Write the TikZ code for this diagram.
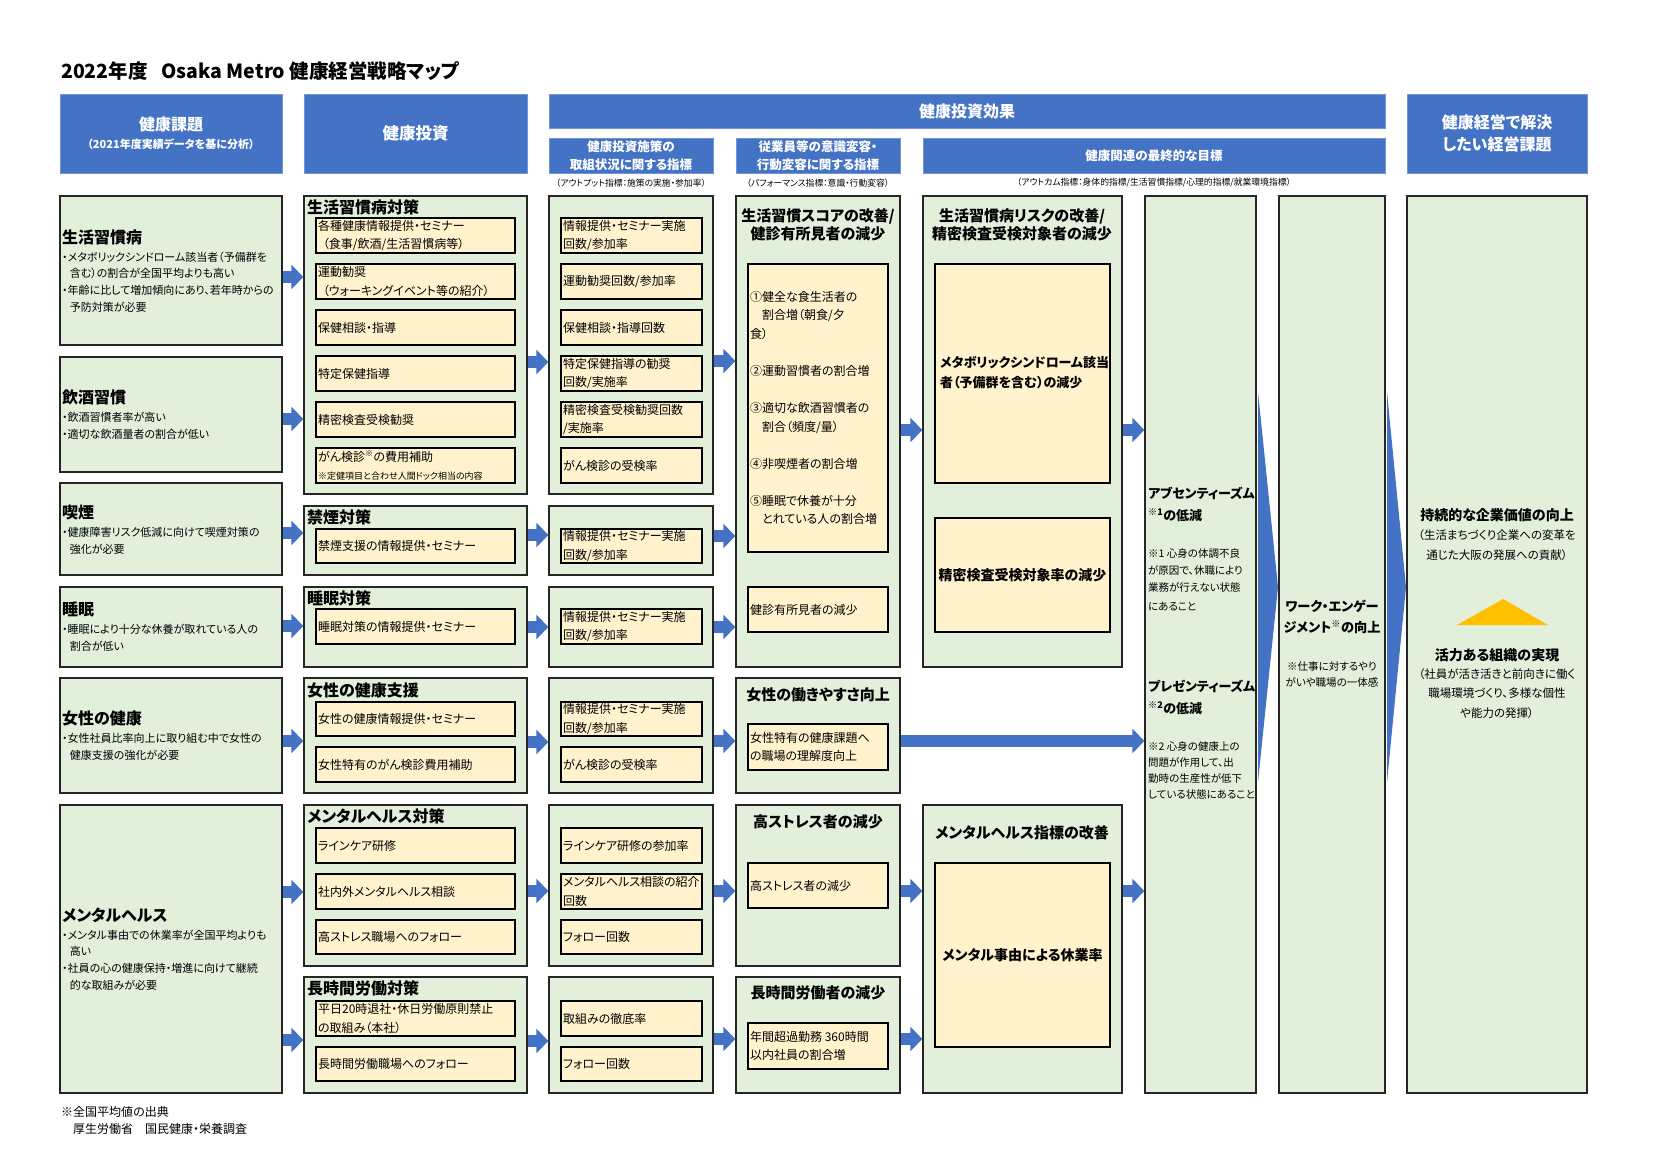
\documentclass[tikz,border=0pt]{standalone}
\usepackage{fontspec}
\setmainfont{Noto Sans CJK JP}[RawFeature=+palt]
\usetikzlibrary{arrows.meta,fit}
\definecolor{hblue}{HTML}{4472C4}
\definecolor{lgreen}{HTML}{E2EFDA}
\definecolor{lyel}{HTML}{FFF2CC}
\definecolor{bdr}{HTML}{262626}
\definecolor{gold}{HTML}{FFC000}
\newcommand\fs[2]{\fontsize{#1}{#2}\selectfont}
\newcommand\BX[6]{\node[#2,fit={(#3,#4) (#5,#6)},inner sep=0pt] (#1) {};}
\newcommand\IB[6]{\node[ibox,fit={(#2,#3) (#4,#5)},inner sep=0pt] (#1) {};
  \node[itext,anchor=west] (#1t) at ([xshift=2.5pt]#1.west) {#6};}
\newcommand\AR[3]{\draw[barrow] (#1.east |- 0,#3) -- (#2.west |- 0,#3);}
\begin{document}
\begin{tikzpicture}[x=1pt,y=-1pt,
  hdr/.style={fill=hblue,draw=hblue!75!white,line width=0.8pt},
  htext/.style={text=white,font=\bfseries\fs{16}{22},align=center,inner sep=0pt},
  stext/.style={text=white,font=\bfseries\fs{12.5}{18},align=center,inner sep=0pt},
  note/.style={font=\fs{8.8}{10},inner sep=0pt},
  gbox/.style={fill=lgreen,draw=bdr,line width=1.3pt},
  ibox/.style={fill=lyel,draw=black,line width=1.2pt},
  itext/.style={font=\fs{12}{18.5},align=left,inner sep=0pt},
  ttl1/.style={font=\bfseries\fs{16}{20},anchor=west,inner sep=0pt},
  body1/.style={font=\fs{11}{16.7},anchor=west,align=left,inner sep=0pt},
  ttl4/.style={font=\bfseries\fs{15}{18},align=center,inner sep=0pt},
  btext/.style={font=\bfseries\fs{14}{20},inner sep=0pt},
  ntext/.style={font=\fs{10.5}{17},inner sep=0pt},
  barrow/.style={draw=hblue,line width=12pt,-{Triangle[length=12pt,width=24pt]}}]
\useasboundingbox (0,0) rectangle (1653,1169);
\fill[white] (0,0) rectangle (1653,1169);

% title
\node[font=\bfseries\fs{19.5}{23},anchor=west,inner sep=0pt] (title) at (61,71) {2022年度\hspace{0.7em}Osaka Metro 健康経営戦略マップ};

% headers
\BX{h1}{hdr}{60}{94}{282}{173}
\node[htext] (h1a) at (171,124) {健康課題};
\node[text=white,font=\bfseries\fs{11}{13},inner sep=0pt] (h1b) at (171,144) {（2021年度実績データを基に分析）};
\BX{h2}{hdr}{304}{94}{527}{173}
\node[htext,font=\bfseries\fs{16.5}{22}] (h2a) at (h2.center) {健康投資};
\BX{h3}{hdr}{549}{94}{1385}{128}
\node[htext] (h3a) at (h3.center) {健康投資効果};
\BX{h31}{hdr}{549}{138}{713}{173}
\node[stext] (h31a) at (h31.center) {健康投資施策の\\取組状況に関する指標};
\BX{h32}{hdr}{736}{138}{900}{173}
\node[stext] (h32a) at (h32.center) {従業員等の意識変容・\\行動変容に関する指標};
\BX{h33}{hdr}{923}{138}{1385}{173}
\node[stext] (h33a) at (h33.center) {健康関連の最終的な目標};
\BX{h4}{hdr}{1407}{94}{1587}{173}
\node[htext] (h4a) at (h4.center) {健康経営で解決\\したい経営課題};
\node[note] (n1) at (631,183) {（アウトプット指標：施策の実施・参加率）};
\node[note] (n2) at (818,183) {（パフォーマンス指標：意識・行動変容）};
\node[note] (n3) at (1154,183) {（アウトカム指標：身体的指標/生活習慣指標/心理的指標/就業環境指標）};

% column 1
\BX{c1r1}{gbox}{60}{196}{282}{345}
\node[ttl1] (t11) at (62,237) {生活習慣病};
\node[body1] (b11) at (62,282) {・メタボリックシンドローム該当者（予備群を\\\hspace*{0.7em}含む）の割合が全国平均よりも高い\\・年齢に比して増加傾向にあり、若年時からの\\\hspace*{0.7em}予防対策が必要};
\BX{c1r2}{gbox}{60}{357}{282}{472}
\node[ttl1] (t12) at (62,397) {飲酒習慣};
\node[body1] (b12) at (62,425.5) {・飲酒習慣者率が高い\\・適切な飲酒量者の割合が低い};
\BX{c1r3}{gbox}{60}{483}{282}{575}
\node[ttl1] (t13) at (62,512) {喫煙};
\node[body1] (b13) at (62,540.5) {・健康障害リスク低減に向けて喫煙対策の\\\hspace*{0.7em}強化が必要};
\BX{c1r4}{gbox}{60}{587}{282}{667}
\node[ttl1] (t14) at (62,609) {睡眠};
\node[body1] (b14) at (62,637.5) {・睡眠により十分な休養が取れている人の\\\hspace*{0.7em}割合が低い};
\BX{c1r5}{gbox}{60}{678}{282}{793}
\node[ttl1] (t15) at (62,718) {女性の健康};
\node[body1] (b15) at (62,747) {・女性社員比率向上に取り組む中で女性の\\\hspace*{0.7em}健康支援の強化が必要};
\BX{c1r6}{gbox}{60}{805}{282}{1093}
\node[ttl1] (t16) at (62,915) {メンタルヘルス};
\node[body1] (b16) at (62,960) {・メンタル事由での休業率が全国平均よりも\\\hspace*{0.7em}高い\\・社員の心の健康保持・増進に向けて継続\\\hspace*{0.7em}的な取組みが必要};
\node[font=\fs{12}{17},anchor=west,align=left,inner sep=0pt] (foot) at (61,1120.5) {※全国平均値の出典\\\hspace*{1em}厚生労働省\hspace{1em}国民健康・栄養調査};

% column 2
\BX{c2r1}{gbox}{304}{196}{527}{494}
\node[ttl1] (t21) at (307,207) {生活習慣病対策};
\IB{i2a}{316}{218}{515}{253}{各種健康情報提供・セミナー\\\hspace*{0.4em}（食事/飲酒/生活習慣病等）}
\IB{i2b}{316}{264}{515}{299}{運動勧奨\\\hspace*{0.4em}（ウォーキングイベント等の紹介）}
\IB{i2c}{316}{310}{515}{345}{保健相談・指導}
\IB{i2d}{316}{356}{515}{391}{特定保健指導}
\IB{i2e}{316}{402}{515}{437}{精密検査受検勧奨}
\IB{i2f}{316}{448}{515}{483}{がん検診\textsuperscript{※}の費用補助\\{\fs{9}{12}※定健項目と合わせ人間ドック相当の内容}}
\BX{c2r2}{gbox}{304}{506}{527}{575}
\node[ttl1] (t22) at (307,517) {禁煙対策};
\IB{i2g}{316}{529}{515}{563}{禁煙支援の情報提供・セミナー}
\BX{c2r3}{gbox}{304}{587}{527}{667}
\node[ttl1] (t23) at (307,598) {睡眠対策};
\IB{i2h}{316}{609}{515}{644}{睡眠対策の情報提供・セミナー}
\BX{c2r4}{gbox}{304}{678}{527}{793}
\node[ttl1] (t24) at (307,690) {女性の健康支援};
\IB{i2i}{316}{702}{515}{736}{女性の健康情報提供・セミナー}
\IB{i2j}{316}{747}{515}{782}{女性特有のがん検診費用補助}
\BX{c2r5}{gbox}{304}{805}{527}{966}
\node[ttl1] (t25) at (307,816) {メンタルヘルス対策};
\IB{i2k}{316}{828}{515}{863}{ラインケア研修}
\IB{i2l}{316}{874}{515}{909}{社内外メンタルヘルス相談}
\IB{i2m}{316}{920}{515}{954}{高ストレス職場へのフォロー}
\BX{c2r6}{gbox}{304}{977}{527}{1093}
\node[ttl1] (t26) at (307,988) {長時間労働対策};
\IB{i2n}{316}{1001}{515}{1036}{平日20時退社・休日労働原則禁止\\の取組み（本社）}
\IB{i2o}{316}{1047}{515}{1081}{長時間労働職場へのフォロー}

% column 3
\BX{c3r1}{gbox}{549}{196}{713}{494}
\IB{i3a}{561}{218}{702}{253}{情報提供・セミナー実施\\回数/参加率}
\IB{i3b}{561}{264}{702}{299}{運動勧奨回数/参加率}
\IB{i3c}{561}{310}{702}{345}{保健相談・指導回数}
\IB{i3d}{561}{356}{702}{391}{特定保健指導の勧奨\\回数/実施率}
\IB{i3e}{561}{402}{702}{437}{精密検査受検勧奨回数\\/実施率}
\IB{i3f}{561}{448}{702}{483}{がん検診の受検率}
\BX{c3r2}{gbox}{549}{506}{713}{575}
\IB{i3g}{561}{529}{702}{563}{情報提供・セミナー実施\\回数/参加率}
\BX{c3r3}{gbox}{549}{587}{713}{667}
\IB{i3h}{561}{609}{702}{644}{情報提供・セミナー実施\\回数/参加率}
\BX{c3r4}{gbox}{549}{678}{713}{793}
\IB{i3i}{561}{702}{702}{736}{情報提供・セミナー実施\\回数/参加率}
\IB{i3j}{561}{747}{702}{782}{がん検診の受検率}
\BX{c3r5}{gbox}{549}{805}{713}{966}
\IB{i3k}{561}{828}{702}{863}{ラインケア研修の参加率}
\IB{i3l}{561}{874}{702}{909}{メンタルヘルス相談の紹介\\回数}
\IB{i3m}{561}{920}{702}{954}{フォロー回数}
\BX{c3r6}{gbox}{549}{977}{713}{1093}
\IB{i3n}{561}{1001}{702}{1036}{取組みの徹底率}
\IB{i3o}{561}{1047}{702}{1081}{フォロー回数}

% column 4
\BX{c4r1}{gbox}{736}{196}{900}{667}
\node[ttl4] (t41) at (818,225) {生活習慣スコアの改善/\\健診有所見者の減少};
\IB{i4a}{748}{264}{888}{552}{①健全な食生活者の\\\hspace*{1em}割合増（朝食/夕\\食）\\[18.6pt]②運動習慣者の割合増\\[18.6pt]③適切な飲酒習慣者の\\\hspace*{1em}割合（頻度/量）\\[18.6pt]④非喫煙者の割合増\\[18.6pt]⑤睡眠で休養が十分\\\hspace*{1em}とれている人の割合増}
\IB{i4b}{748}{587}{888}{632}{健診有所見者の減少}
\BX{c4r2}{gbox}{736}{678}{900}{793}
\node[ttl4] (t42) at (818,695) {女性の働きやすさ向上};
\IB{i4c}{748}{724}{888}{770}{女性特有の健康課題へ\\の職場の理解度向上}
\BX{c4r3}{gbox}{736}{805}{900}{966}
\node[ttl4] (t43) at (818,822) {高ストレス者の減少};
\IB{i4d}{748}{863}{888}{908}{高ストレス者の減少}
\BX{c4r4}{gbox}{736}{977}{900}{1093}
\node[ttl4] (t44) at (818,993) {長時間労働者の減少};
\IB{i4e}{748}{1023}{888}{1069}{年間超過勤務 360時間\\以内社員の割合増}

% column 5
\BX{c5r1}{gbox}{923}{196}{1122}{667}
\node[ttl4] (t51) at (1022,225) {生活習慣病リスクの改善/\\精密検査受検対象者の減少};
\BX{i5a}{ibox}{935}{264}{1110}{483}
\node[btext,font=\bfseries\fs{13}{20},anchor=west,align=left] (i5at) at (940,373) {メタボリックシンドローム該当\\者（予備群を含む）の減少};
\BX{i5b}{ibox}{935}{518}{1110}{632}
\node[btext] (i5bt) at (i5b.center) {精密検査受検対象率の減少};
\BX{c5r2}{gbox}{923}{805}{1122}{1093}
\node[ttl4] (t52) at (1022,833) {メンタルヘルス指標の改善};
\BX{i5c}{ibox}{935}{863}{1110}{1047}
\node[btext] (i5ct) at (i5c.center) {メンタル事由による休業率};

% columns 6-8
\BX{c6}{gbox}{1145}{196}{1256}{1093}
\BX{c7}{gbox}{1279}{196}{1385}{1093}
\BX{c8}{gbox}{1407}{196}{1587}{1093}
\node[btext,font=\bfseries\fs{13}{22},anchor=west,align=left] (t61) at (1148,504) {アブセンティーズム\\\textsuperscript{※1}の低減};
\node[ntext,anchor=west,align=left] (t62) at (1148,580) {※1 心身の体調不良\\が原因で、休職により\\業務が行えない状態\\[2pt]にあること};
\node[btext,font=\bfseries\fs{13}{22},anchor=west,align=left] (t63) at (1148,697) {プレゼンティーズム\\\textsuperscript{※2}の低減};
\node[ntext,font=\fs{10.5}{16.3},anchor=west,align=left] (t64) at (1148,770.5) {※2 心身の健康上の\\問題が作用して、出\\勤時の生産性が低下\\している状態にあること};
\node[btext,font=\bfseries\fs{13.2}{21},align=center] (t71) at (1332,616.5) {ワーク・エンゲー\\ジメント\textsuperscript{※}の向上};
\node[ntext,font=\fs{10.5}{16},align=center] (t72) at (1332,675) {※仕事に対するやり\\がいや職場の一体感};
\node[btext] (t81) at (1497,515) {持続的な企業価値の向上};
\node[font=\fs{11.5}{20},align=center,inner sep=0pt] (t82) at (1497,545) {（生活まちづくり企業への変革を\\通じた大阪の発展への貢献）};
\fill[gold] (1457,625) -- (1503,599) -- (1548,625) -- cycle;
\node[btext] (t83) at (1497,655) {活力ある組織の実現};
\node[font=\fs{11.5}{19.5},align=center,inner sep=0pt] (t84) at (1497,693.5) {（社員が活き活きと前向きに働く\\職場環境づくり、多様な個性\\や能力の発揮）};

% chevrons
\fill[hblue] (1258,392) -- (1278,587) -- (1258,782) -- cycle;
\fill[hblue] (1387,392) -- (1406,587) -- (1387,782) -- cycle;

% arrows
\AR{c1r1}{c2r1}{277}
\AR{c1r2}{c2r1}{419}
\AR{c1r3}{c2r2}{533}
\AR{c1r4}{c2r3}{626}
\AR{c1r5}{c2r4}{741}
\AR{c1r6}{c2r5}{892}
\AR{c1r6}{c2r6}{1040}
\AR{c2r1}{c3r1}{362}
\AR{c2r2}{c3r2}{535}
\AR{c2r3}{c3r3}{627}
\AR{c2r4}{c3r4}{742}
\AR{c2r5}{c3r5}{891}
\AR{c2r6}{c3r6}{1041}
\AR{c3r1}{c4r1}{361}
\AR{c3r2}{c4r1}{536}
\AR{c3r3}{c4r1}{627}
\AR{c3r4}{c4r2}{741}
\AR{c3r5}{c4r3}{891}
\AR{c3r6}{c4r4}{1039}
\AR{c4r1}{c5r1}{430}
\AR{c4r3}{c5r2}{891}
\AR{c4r4}{c5r2}{1039}
\AR{c5r1}{c6}{430}
\AR{c5r2}{c6}{891}
\AR{c4r2}{c6}{741}
\end{tikzpicture}
\end{document}
